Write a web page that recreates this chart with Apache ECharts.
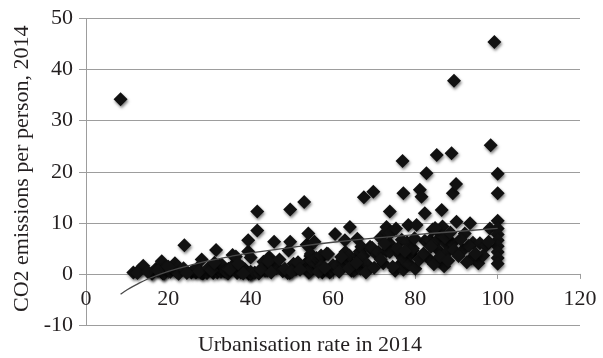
<!DOCTYPE html>
<html>
<head>
<meta charset="utf-8">
<script src="https://cdn.jsdelivr.net/npm/echarts@6/dist/echarts.min.js"></script>
<style>
html,body{margin:0;padding:0;background:#fff;}
#chart{width:603px;height:358px;}
</style>
</head>
<body>
<div id="chart"></div>
<script>
// Urbanisation rate (%) and CO2 emissions per person (t), 2014
var urbanRate = [8.4,11.5,13.0,13.9,16.0,16.1,17.0,18.3,18.4,18.7,18.6,19.0,19.3,20.5,21.3,21.6,22.0,22.4,22.5,23.7,
  23.9,25.6,26.0,26.7,26.8,27.0,28.1,28.4,28.0,29.4,30.9,31.6,31.9,32.4,32.5,32.8,33.0,33.6,34.0,34.1,
  34.5,34.6,35.6,35.6,36.4,36.7,37.6,38.0,38.6,39.4,39.4,39.5,39.9,40.0,40.0,40.0,40.0,41.0,41.6,41.6,
  42.0,43.0,43.1,43.5,44.0,44.5,44.9,45.3,45.7,46.0,46.2,47.8,49.0,49.2,49.5,49.6,49.6,50.4,51.0,53.0,
  53.3,53.6,53.6,53.7,54.0,54.0,54.1,54.3,54.2,54.5,54.6,54.7,54.8,55.5,56.0,56.0,57.0,57.1,57.3,57.4,
  58.5,58.5,58.8,59.2,59.5,59.6,60.0,60.5,60.9,62.7,62.9,63.0,63.5,64.0,64.1,64.5,65.0,65.3,65.9,67.5,
  66.0,66.3,66.5,66.7,66.7,66.9,67.4,68.3,69.0,69.3,69.5,69.8,70.7,71.0,71.5,72.2,73.0,73.0,73.0,73.7,
  73.8,73.8,74.0,75.1,75.3,76.2,76.3,76.7,76.8,76.9,77.0,77.1,77.1,78.0,78.0,78.3,78.6,79.0,79.3,79.4,
  80.3,81.1,81.5,82.3,82.3,82.7,83.1,83.6,84.2,85.0,85.2,85.5,85.8,86.3,86.4,86.6,87.0,87.5,87.8,88.8,
  89.0,89.1,89.4,89.4,89.9,90.0,91.6,92.0,93.3,93.6,94.0,95.3,95.7,97.2,98.1,98.3,99.2,100,100,100,
  100,100,100,100,100,100,100,
  12.5,15.0,17.5,20.0,24.5,27.5,29.8,30.5,31.2,35.0,37.0,38.2,42.5,44.3,45.0,47.0,48.3,50.0,51.5,52.0,
  56.5,58.0,61.5,62.0,63.9,65.7,68.0,70.0,71.6,72.5,74.5,75.7,77.5,80.0,81.0,82.0,84.5,86.0,88.0,90.5,
  92.5,93.0,96.5,79.8,83.8,87.2,91.0,94.6,97.8,84.8,88.5];
var co2PerPerson = [34.2,0.3,0.8,1.6,0.1,0.1,1.0,0.9,2.5,0.1,0.3,0.1,1.2,0.4,0.9,2.1,0.4,1.3,0.05,1.1,
  5.6,0.3,0.6,0.3,0.6,1.1,2.8,0.1,0.2,0.2,0.2,4.7,0.3,1.7,0.9,0.4,1.8,0.5,0.5,0.4,
  0.1,1.0,3.7,1.6,3.4,0.2,0.3,1.3,0.9,4.4,6.6,0.05,0.1,0.2,3.2,0.4,0.06,0.3,8.5,12.2,
  0.06,1.3,2.4,0.6,0.6,3.3,1.4,1.4,6.3,1.6,1.1,0.5,0.2,4.6,0.2,6.3,12.6,2.0,0.9,14.1,
  1.8,2.2,5.7,1.3,7.9,0.5,0.3,0.5,5.3,3.5,3.9,1.1,2.6,6.3,2.0,3.1,3.0,3.6,1.6,0.3,
  0.8,4.0,3.9,0.3,0.7,0.9,1.7,7.8,1.6,1.9,6.6,4.3,2.8,3.6,9.2,0.6,0.6,0.9,6.9,15.0,
  3.6,2.6,4.4,1.0,2.6,5.3,3.5,1.9,5.3,4.8,5.1,16.1,3.7,4.3,7.1,2.1,9.2,8.3,4.5,6.0,
  12.2,4.3,8.0,0.6,8.9,1.8,3.7,6.7,1.6,22.1,3.0,15.8,0.8,6.2,2.1,9.6,1.9,3.9,4.6,5.0,
  9.6,16.5,15.1,11.9,6.5,19.7,3.1,6.6,8.7,6.3,23.3,2.6,4.5,7.7,12.5,9.3,1.5,5.9,4.3,23.6,
  6.0,15.8,37.8,4.7,17.6,10.2,4.7,7.9,9.9,3.0,6.1,2.1,6.0,5.5,8.9,25.2,45.4,19.6,15.8,10.4,
  8.9,7.7,6.6,5.4,4.3,3.1,2.0,
  0.2,0.4,0.6,1.4,0.2,0.5,1.2,0.7,2.2,0.9,2.0,0.1,0.9,2.5,0.3,2.8,1.0,0.4,2.3,0.8,
  0.4,1.2,0.4,3.3,1.1,2.2,0.3,1.2,2.8,5.9,1.4,5.0,4.5,1.0,2.8,4.0,1.9,3.4,2.6,3.5,
  2.3,5.5,3.6,7.0,5.3,7.2,6.8,4.0,6.3,9.0,8.1];

// Trend line values
var trendX = [8.4,10,12,15,20,25,30,35,40,50,60,70,80,90,100];
var trendY = [-4.0,-3.1,-2.2,-1.0,0.5,1.6,2.6,3.4,4.1,5.2,6.2,7.0,7.7,8.3,8.9];

var xTicks = {min:0, max:120, interval:20};
var yTicks = {min:-10, max:50, interval:10};

var points = urbanRate.map(function(x,i){return [x, co2PerPerson[i]];});
var trend = trendX.map(function(x,i){return [x, trendY[i]];});

var chart = echarts.init(document.getElementById('chart'), null, {renderer:'canvas'});
var textColor = '#231f20';
var font = 'Liberation Serif';
var fs = 22;
var gridColor = '#9d9d9d';
chart.setOption({
  backgroundColor:'#ffffff',
  animation:false,
  grid:{left:86, right:23, top:18.5, bottom:33, containLabel:false, outerBoundsMode:'none'},
  xAxis:{
    type:'value', min:xTicks.min, max:xTicks.max, interval:xTicks.interval,
    name:'Urbanisation rate in 2014', nameLocation:'middle', nameGap:60,
    nameTextStyle:{color:textColor, fontFamily:font, fontSize:fs, padding:[0,46,0,0]},
    axisLine:{show:true, onZero:false, lineStyle:{color:gridColor, width:1}},
    axisTick:{show:true, length:5, lineStyle:{color:gridColor}},
    axisLabel:{color:textColor, fontFamily:font, fontSize:fs, margin:14},
    splitLine:{show:false}
  },
  yAxis:{
    type:'value', min:yTicks.min, max:yTicks.max, interval:yTicks.interval,
    name:'CO2 emissions per person, 2014', nameLocation:'middle', nameGap:53,
    nameTextStyle:{color:textColor, fontFamily:font, fontSize:fs, padding:[0,0,0,6]},
    axisLine:{show:true, onZero:false, lineStyle:{color:gridColor, width:1}},
    axisTick:{show:true, length:7, lineStyle:{color:gridColor}},
    axisLabel:{color:textColor, fontFamily:font, fontSize:fs, margin:13},
    splitLine:{show:true, lineStyle:{color:gridColor, width:1}}
  },
  series:[
    {
      type:'scatter', data:points, symbol:'diamond', symbolSize:14,
      itemStyle:{color:'#111111', opacity:1, shadowColor:'rgba(0,0,0,0.5)', shadowBlur:3, shadowOffsetX:1, shadowOffsetY:2},
      z:2
    },
    {
      type:'line', data:trend, smooth:true, showSymbol:false,
      lineStyle:{color:'#4a4a4a', width:1.3},
      z:3
    }
  ]
});
// Move the x axis line up to where y = 0 is, using the chart's own y scale
var pZero = chart.convertToPixel({yAxisIndex:0}, 0);
var pMin = chart.convertToPixel({yAxisIndex:0}, yTicks.min);
chart.setOption({xAxis:{offset:pZero - pMin}});
</script>
</body>
</html>
